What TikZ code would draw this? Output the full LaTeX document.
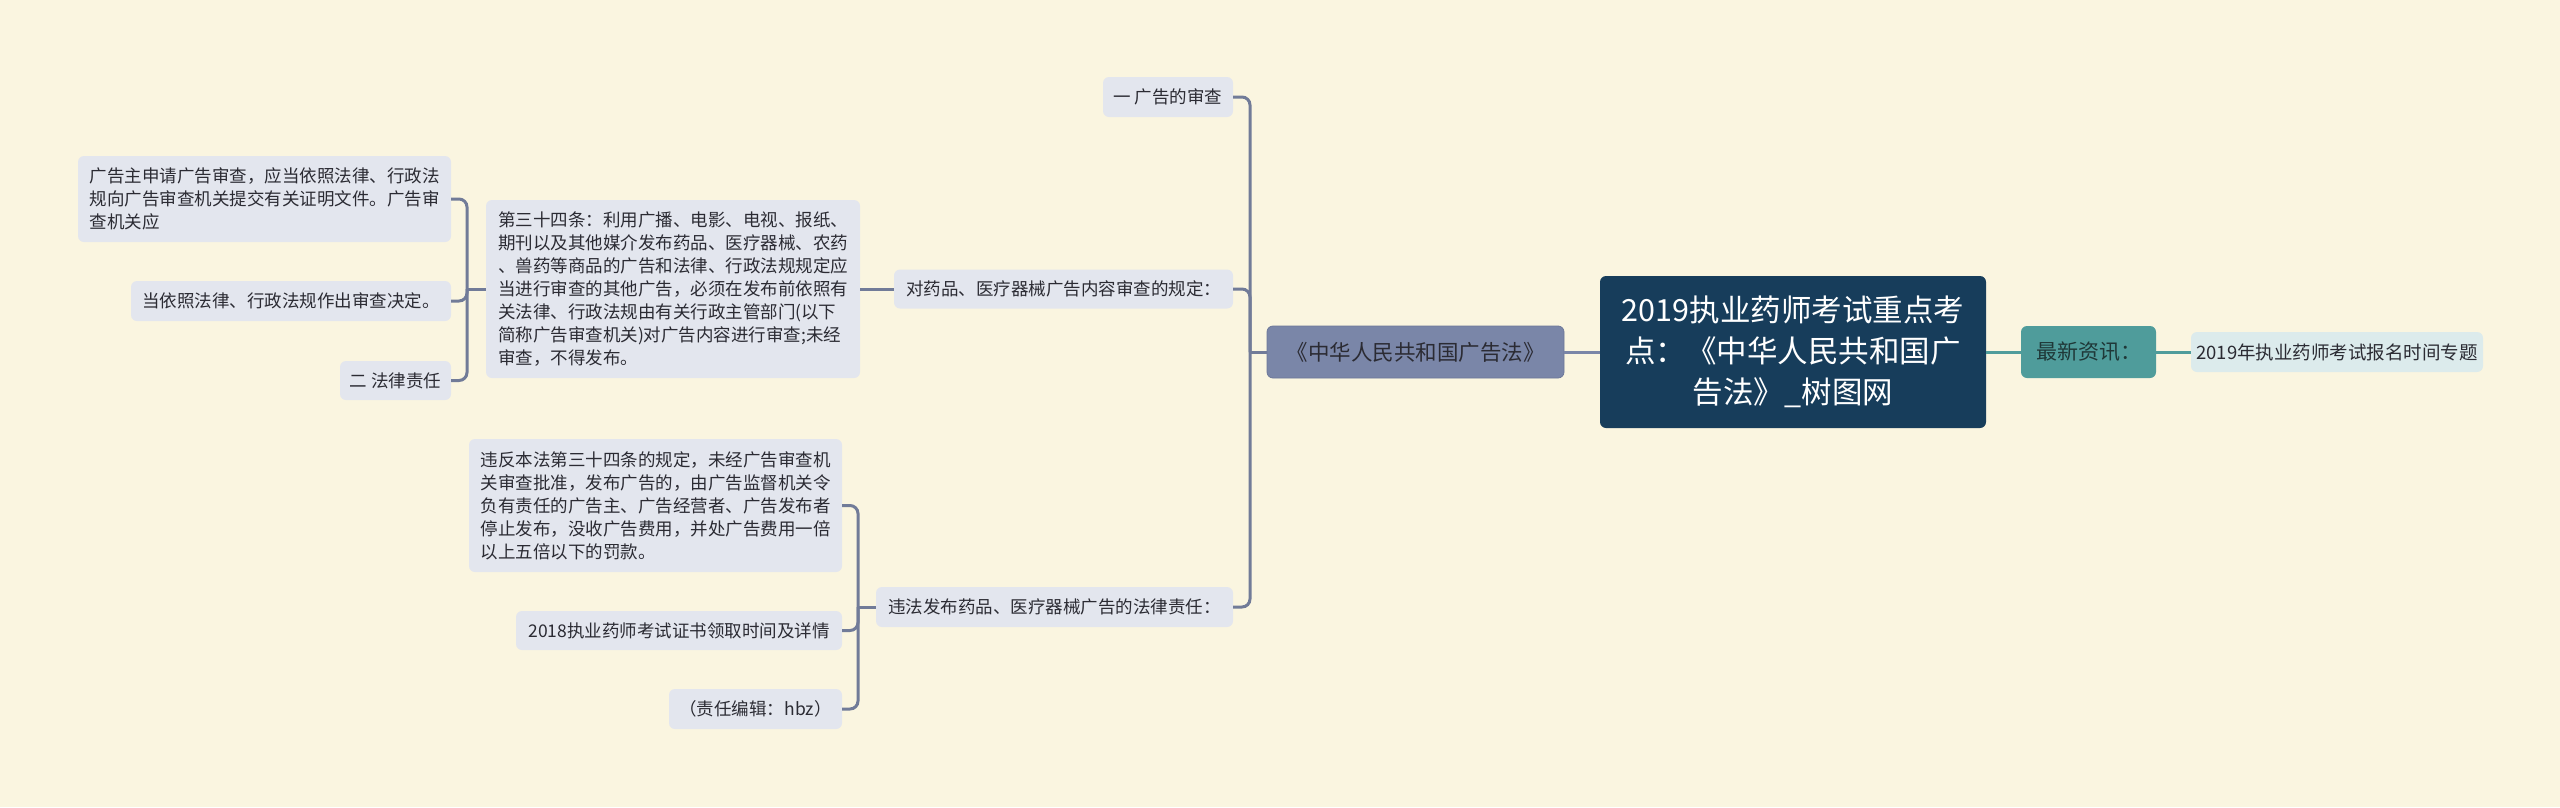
\documentclass[tikz,border=0pt]{standalone}
\usepackage{fontspec}
\newfontfamily\cjk{Noto Sans CJK SC}
\definecolor{bg}{HTML}{FAF5E0}
\definecolor{rootfill}{HTML}{173D5B}
\definecolor{zhfill}{HTML}{7A86A8}
\definecolor{zhdraw}{HTML}{6C7799}
\definecolor{zxfill}{HTML}{4F9C9B}
\definecolor{zxtext}{HTML}{1F3838}
\definecolor{n19fill}{HTML}{DCEBEC}
\definecolor{leaffill}{HTML}{E3E6EE}
\definecolor{txt}{HTML}{2B2B33}
\definecolor{lc}{HTML}{717B98}
\definecolor{teal}{HTML}{4F9C9B}
\begin{document}
\begin{tikzpicture}[x=1pt,y=-1pt,
  box/.style={rounded corners=6pt, inner sep=0pt, text=txt, align=left,
    font=\cjk\fontsize{17.5}{23}\selectfont},
  leaf/.style={box, fill=leaffill},
  conn/.style={draw=lc, line width=3pt, rounded corners=8pt},
  tconn/.style={draw=teal, line width=3pt}]
\fill[bg] (0,0) rectangle (2560,807);
\useasboundingbox (0,0) rectangle (2560,807);

% root
\node[box, fill=rootfill, text=white, align=center, minimum width=386pt, minimum height=152pt,
  font=\cjk\fontsize{30.5}{41}\selectfont] (root) at (1793,352)
  {2019执业药师考试重点考\\点：《中华人民共和国广\\告法》\_树图网};

% right branch
\node[box, fill=zxfill, text=zxtext, minimum width=135pt, minimum height=52pt,
  font=\cjk\fontsize{21}{26}\selectfont] (zx) at (2088.5,352) {最新资讯：};
\node[box, fill=n19fill, minimum width=292pt, minimum height=40pt,
  font=\cjk\fontsize{18.5}{23}\selectfont] (n19) at (2337,352) {2019年执业药师考试报名时间专题};

% left main
\node[box, fill=zhfill, draw=zhdraw, line width=0.8pt, minimum width=297pt, minimum height=52pt,
  font=\cjk\fontsize{21.5}{26}\selectfont] (zh) at (1415.5,352) {《中华人民共和国广告法》};

\node[leaf, minimum width=130pt, minimum height=40pt] (c1) at (1168,97) {一 广告的审查};
\node[leaf, minimum width=339pt, minimum height=39pt] (c2) at (1063.5,289) {对药品、医疗器械广告内容审查的规定：};
\node[leaf, minimum width=357pt, minimum height=40pt] (c3) at (1054.5,607) {违法发布药品、医疗器械广告的法律责任：};

\node[leaf, minimum width=374pt, minimum height=178pt] (p34) at (673,289)
  {第三十四条：利用广播、电影、电视、报纸、\\期刊以及其他媒介发布药品、医疗器械、农药\\、兽药等商品的广告和法律、行政法规规定应\\当进行审查的其他广告，必须在发布前依照有\\关法律、行政法规由有关行政主管部门(以下\\简称广告审查机关)对广告内容进行审查;未经\\审查，不得发布。};

\node[leaf, minimum width=373pt, minimum height=86pt] (a1) at (264.5,199)
  {广告主申请广告审查，应当依照法律、行政法\\规向广告审查机关提交有关证明文件。广告审\\查机关应};
\node[leaf, minimum width=320pt, minimum height=40pt] (a2) at (291,301) {当依照法律、行政法规作出审查决定。};
\node[leaf, minimum width=111pt, minimum height=39pt] (a3) at (395.5,380.5) {二 法律责任};

\node[leaf, minimum width=373pt, minimum height=133pt] (b1) at (655.5,505.5)
  {违反本法第三十四条的规定，未经广告审查机\\关审查批准，发布广告的，由广告监督机关令\\负有责任的广告主、广告经营者、广告发布者\\停止发布，没收广告费用，并处广告费用一倍\\以上五倍以下的罚款。};
\node[leaf, minimum width=326pt, minimum height=39pt] (b2) at (679,630.5) {2018执业药师考试证书领取时间及详情};
\node[leaf, minimum width=173pt, minimum height=40pt] (b3) at (755.5,709) {（责任编辑：hbz）};

% connectors
\draw[tconn] (root.east) -- (zx.west);
\draw[tconn] (zx.east) -- (n19.west);
\draw[draw=zhfill, line width=3pt] (root.west) -- (zh.east);

\coordinate (jA) at (1250,352);
\draw[conn] (zh.west) -- (jA);
\draw[conn] (jA) |- (c1.east);
\draw[conn] (jA) |- (c2.east);
\draw[conn] (jA) |- (c3.east);

\draw[conn] (c2.west) -- (p34.east);

\coordinate (jB) at (467,289);
\draw[conn] (p34.west) -- (jB);
\draw[conn] (jB) |- (a1.east);
\draw[conn] (jB) |- (a2.east);
\draw[conn] (jB) |- (a3.east);

\coordinate (jC) at (858,607);
\draw[conn] (c3.west) -- (jC);
\draw[conn] (jC) |- (b1.east);
\draw[conn] (jC) |- (b2.east);
\draw[conn] (jC) |- (b3.east);
\end{tikzpicture}
\end{document}
